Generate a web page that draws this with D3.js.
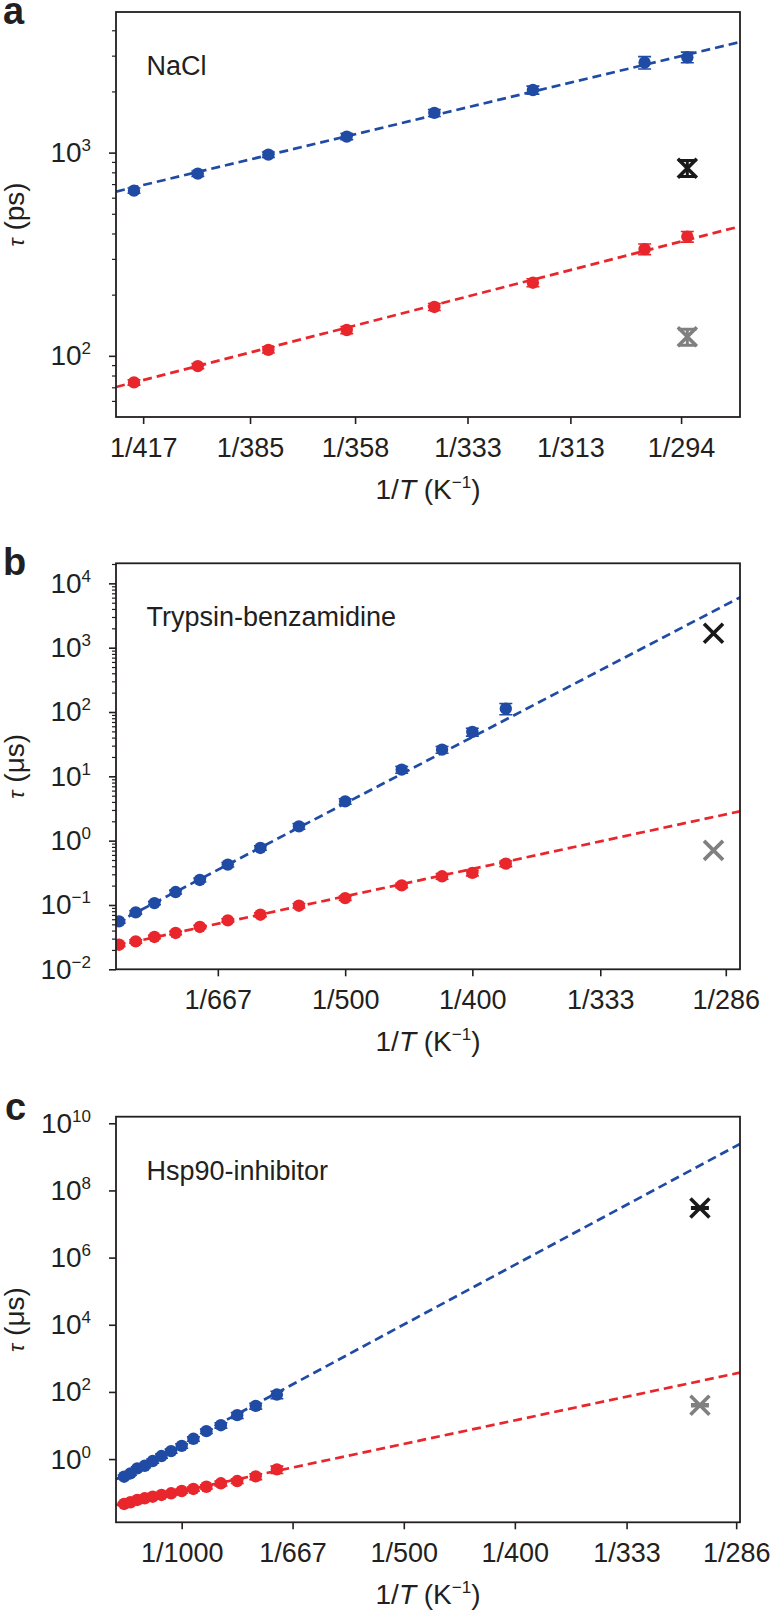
<!DOCTYPE html>
<html>
<head>
<meta charset="utf-8">
<script src="https://cdn.jsdelivr.net/npm/d3@7"></script>
<style>
  body { margin: 0; background: #fff; }
  svg text { font-family: "Liberation Sans", Arial, Helvetica, sans-serif; fill: #231f20; }
</style>
</head>
<body>
<svg id="fig" width="774" height="1613"></svg>
<script>
// ---- panel a: NaCl (tau in ps) ----
var naclTemps = [420, 400, 380, 360, 340, 320, 300, 293];
var naclBlue = [650, 788, 977, 1199, 1568, 2032, 2774, 2945];
var naclBlueErr = [0.03, 0.03, 0.03, 0.035, 0.04, 0.045, 0.07, 0.06];
var naclRed = [74, 89, 107, 134, 174, 229, 335, 386];
var naclRedErr = [0.03, 0.03, 0.035, 0.04, 0.04, 0.045, 0.06, 0.06];
var naclFitBlue = [[426, 643], [285, 3491]];
var naclFitRed = [[426, 70.2], [285, 432]];
var naclCrossT = 293;
var naclCross = [838, 124];          // black, gray
var naclCrossErr = [0.09, 0.09];
var naclXTicks = [417, 385, 358, 333, 313, 294];
var naclYExp = [2, 3];
var naclTRange = [426, 284.8];
var naclYRange = [50, 4920];

// ---- panel b: Trypsin-benzamidine (tau in us) ----
var trypTemps = [900, 850, 800, 750, 700, 650, 600, 550, 500, 450, 420, 400, 380];
var trypBlue = [0.0556, 0.0767, 0.107, 0.159, 0.245, 0.424, 0.770, 1.67, 4.08, 12.7, 26.0, 49.0, 113];
var trypBlueErr = [0.06, 0.06, 0.06, 0.07, 0.07, 0.08, 0.08, 0.1, 0.1, 0.12, 0.12, 0.14, 0.2];
var trypRed = [0.0241, 0.0272, 0.0318, 0.0367, 0.0455, 0.0576, 0.0706, 0.0975, 0.128, 0.202, 0.279, 0.315, 0.439];
var trypRedErr = [0.06, 0.06, 0.06, 0.06, 0.06, 0.06, 0.07, 0.08, 0.08, 0.08, 0.1, 0.1, 0.1];
var trypFitBlue = [[910, 0.0525], [281.5, 6050]];
var trypFitRed = [[910, 0.0233], [281.5, 2.86]];
var trypCrossT = 290;
var trypCross = [1675, 0.706];
var trypCrossErr = [0, 0];
var trypXTicks = [667, 500, 400, 333, 286];
var trypYExp = [-2, -1, 0, 1, 2, 3, 4];
var trypTRange = [910, 281.5];
var trypYRange = [0.01, 2.05e4];

// ---- panel c: Hsp90-inhibitor (tau in us) ----
var hspTemps = [1350, 1300, 1250, 1200, 1150, 1100, 1050, 1000, 950, 900, 850, 800, 750, 700];
var hspBlue = [0.298, 0.376, 0.530, 0.632, 0.873, 1.23, 1.73, 2.48, 4.01, 6.79, 10.2, 20.3, 38.3, 83.5];
var hspBlueErr = [0.12, 0.12, 0.12, 0.12, 0.14, 0.14, 0.14, 0.15, 0.15, 0.15, 0.18, 0.2, 0.2, 0.25];
var hspRed = [0.0461, 0.0518, 0.0606, 0.068, 0.0759, 0.0853, 0.0957, 0.112, 0.129, 0.150, 0.190, 0.222, 0.306, 0.494];
var hspRedErr = [0.12, 0.12, 0.12, 0.12, 0.12, 0.12, 0.12, 0.14, 0.14, 0.14, 0.16, 0.16, 0.2, 0.25];
var hspFitBlue = [[1420, 0.251], [284.6, 2.43e9]];
var hspFitRed = [[1420, 0.043], [284.6, 376]];
var hspCrossT = 300;
var hspCross = [3.0e7, 40.2];
var hspCrossErr = [0.03, 0.05];
var hspXTicks = [1000, 667, 500, 400, 333, 286];
var hspYExp = [0, 2, 4, 6, 8, 10];
var hspTRange = [1420, 284.6];
var hspYRange = [0.0131, 1.57e10];

var blue = "#1f4ba5", red = "#e8262c", ink = "#231f20", black = "#1a1a1a", gray = "#808080";
var left = 116, right = 740;
var svg = d3.select("#fig");

var panels = [
  {letter: "a", lx: 3, ly: 24, top: 12, bottom: 417, name: "NaCl", unit: "ps",
   temps: naclTemps, blue: naclBlue, blueErr: naclBlueErr, red: naclRed, redErr: naclRedErr,
   fitBlue: naclFitBlue, fitRed: naclFitRed, crossT: naclCrossT, cross: naclCross, crossErr: naclCrossErr,
   xTicks: naclXTicks, yExp: naclYExp, tRange: naclTRange, yRange: naclYRange, minor: true},
  {letter: "b", lx: 3, ly: 575, top: 563.3, bottom: 969.3, name: "Trypsin-benzamidine", unit: "\u03bcs",
   temps: trypTemps, blue: trypBlue, blueErr: trypBlueErr, red: trypRed, redErr: trypRedErr,
   fitBlue: trypFitBlue, fitRed: trypFitRed, crossT: trypCrossT, cross: trypCross, crossErr: trypCrossErr,
   xTicks: trypXTicks, yExp: trypYExp, tRange: trypTRange, yRange: trypYRange, minor: true},
  {letter: "c", lx: 5, ly: 1120, top: 1116.7, bottom: 1522.3, name: "Hsp90-inhibitor", unit: "\u03bcs",
   temps: hspTemps, blue: hspBlue, blueErr: hspBlueErr, red: hspRed, redErr: hspRedErr,
   fitBlue: hspFitBlue, fitRed: hspFitRed, crossT: hspCrossT, cross: hspCross, crossErr: hspCrossErr,
   xTicks: hspXTicks, yExp: hspYExp, tRange: hspTRange, yRange: hspYRange, minor: false}
];

panels.forEach(drawPanel);

function drawPanel(p, i) {
  var g = svg.append("g");
  var x = d3.scaleLinear().domain([1 / p.tRange[0], 1 / p.tRange[1]]).range([left, right]);
  var y = d3.scaleLog().domain(p.yRange).range([p.bottom, p.top]);

  g.append("clipPath").attr("id", "clip" + i)
    .append("rect").attr("x", left).attr("y", p.top)
    .attr("width", right - left).attr("height", p.bottom - p.top);
  var plot = g.append("g").attr("clip-path", "url(#clip" + i + ")");

  // dashed Arrhenius fits, extended over the whole x range
  var line = d3.line().x(function(d) { return x(d[0]); }).y(function(d) { return y(d[1]); });
  [[p.fitBlue, blue], [p.fitRed, red]].forEach(function(f) {
    plot.append("path")
      .attr("d", line(fitLine(f[0], x.domain())))
      .attr("fill", "none").attr("stroke", f[1])
      .attr("stroke-width", 2.7).attr("stroke-dasharray", "9,5");
  });

  // points with error bars
  [[p.blue, p.blueErr, blue], [p.red, p.redErr, red]].forEach(function(s) {
    var pts = s[0].map(function(v, k) { return {t: p.temps[k], v: v, e: s[1][k]}; });
    errorBars(plot, pts, x, y, s[2], 1.6, 6.5);
    plot.selectAll(null).data(pts).enter().append("circle")
      .attr("cx", function(d) { return x(1 / d.t); })
      .attr("cy", function(d) { return y(d.v); })
      .attr("r", 6.2).attr("fill", s[2]);
  });

  // crosses (black / gray)
  var crosses = p.cross.map(function(v, k) { return {t: p.crossT, v: v, e: p.crossErr[k], c: k ? gray : black}; });
  crosses.forEach(function(d) {
    errorBars(plot, [d], x, y, d.c, 3, 9);
    var cx = x(1 / d.t), cy = y(d.v), s = 9.5;
    plot.append("path")
      .attr("d", "M" + (cx - s) + "," + (cy - s) + "L" + (cx + s) + "," + (cy + s) +
                 "M" + (cx - s) + "," + (cy + s) + "L" + (cx + s) + "," + (cy - s))
      .attr("stroke", d.c).attr("stroke-width", 3.6).attr("fill", "none");
  });

  // frame
  g.append("rect").attr("x", left).attr("y", p.top)
    .attr("width", right - left).attr("height", p.bottom - p.top)
    .attr("fill", "none").attr("stroke", ink).attr("stroke-width", 1.8);

  // y axis, major ticks with power labels
  var yAxis = g.append("g").attr("transform", "translate(" + left + ",0)")
    .call(d3.axisLeft(y).tickValues(p.yExp.map(function(e) { return Math.pow(10, e); }))
      .tickSize(7).tickSizeOuter(0).tickPadding(18).tickFormat(function() { return ""; }));
  yAxis.select(".domain").remove();
  yAxis.selectAll(".tick line").attr("stroke", ink).attr("stroke-width", 1.6);
  yAxis.selectAll(".tick text").attr("font-size", 28).attr("fill", ink)
    .each(function(d) {
      var e = Math.round(Math.log10(d));
      var t = d3.select(this);
      t.append("tspan").text("10");
      t.append("tspan").attr("dy", -11).attr("font-size", 17).text(e < 0 ? "\u2212" + (-e) : e);
    });

  // minor ticks
  if (p.minor) {
    var minors = [];
    for (var e = -3; e < 11; e++) for (var m = 2; m < 10; m++) {
      var v = m * Math.pow(10, e);
      if (v > p.yRange[0] && v < p.yRange[1]) minors.push(v);
    }
    var yMinor = g.append("g").attr("transform", "translate(" + left + ",0)")
      .call(d3.axisLeft(y).tickValues(minors).tickSize(4).tickSizeOuter(0).tickFormat(""));
    yMinor.select(".domain").remove();
    yMinor.selectAll(".tick line").attr("stroke", ink).attr("stroke-width", 1.2);
  }

  // x axis
  var xAxis = g.append("g").attr("transform", "translate(0," + p.bottom + ")")
    .call(d3.axisBottom(x).tickValues(p.xTicks.map(function(t) { return 1 / t; }))
      .tickSize(7).tickSizeOuter(0).tickPadding(14)
      .tickFormat(function(d) { return "1/" + Math.round(1 / d); }));
  xAxis.select(".domain").remove();
  xAxis.selectAll(".tick line").attr("stroke", ink).attr("stroke-width", 1.6);
  xAxis.selectAll(".tick text").attr("font-size", 27).attr("fill", ink);

  // x label
  var xl = g.append("text").attr("x", (left + right) / 2).attr("y", p.bottom + 82)
    .attr("text-anchor", "middle").attr("font-size", 28);
  xl.append("tspan").text("1/");
  xl.append("tspan").attr("font-style", "italic").text("T");
  xl.append("tspan").text(" (K");
  xl.append("tspan").attr("dy", -11).attr("font-size", 17).text("\u22121");
  xl.append("tspan").attr("dy", 11).text(")");

  // y label
  var yl = g.append("text")
    .attr("transform", "translate(24," + (p.top + p.bottom) / 2 + ") rotate(-90)")
    .attr("text-anchor", "middle").attr("font-size", 28);
  yl.append("tspan").attr("font-style", "italic").attr("font-size", 22).text("\u03c4");
  yl.append("tspan").text(" (" + p.unit + ")");

  // annotation and panel letter
  g.append("text").attr("x", 146.5).attr("y", p.top + 63).attr("font-size", 27).text(p.name);
  svg.append("text").attr("x", p.lx).attr("y", p.ly).attr("font-size", 38)
    .attr("font-weight", "bold").text(p.letter);
}

function fitLine(fit, dom) {
  var a = fit[0], b = fit[1];
  var s = (Math.log10(b[1]) - Math.log10(a[1])) / (1 / b[0] - 1 / a[0]);
  return dom.map(function(u) { return [u, Math.pow(10, Math.log10(a[1]) + s * (u - 1 / a[0]))]; });
}

function errorBars(sel, pts, x, y, color, w, cap) {
  pts.forEach(function(d) {
    if (!d.e) return;
    var cx = x(1 / d.t), y0 = y(d.v * (1 - d.e)), y1 = y(d.v * (1 + d.e));
    sel.append("path")
      .attr("d", "M" + cx + "," + y0 + "V" + y1 +
                 "M" + (cx - cap) + "," + y0 + "H" + (cx + cap) +
                 "M" + (cx - cap) + "," + y1 + "H" + (cx + cap))
      .attr("stroke", color).attr("stroke-width", w).attr("fill", "none");
  });
}
</script>
</body>
</html>
